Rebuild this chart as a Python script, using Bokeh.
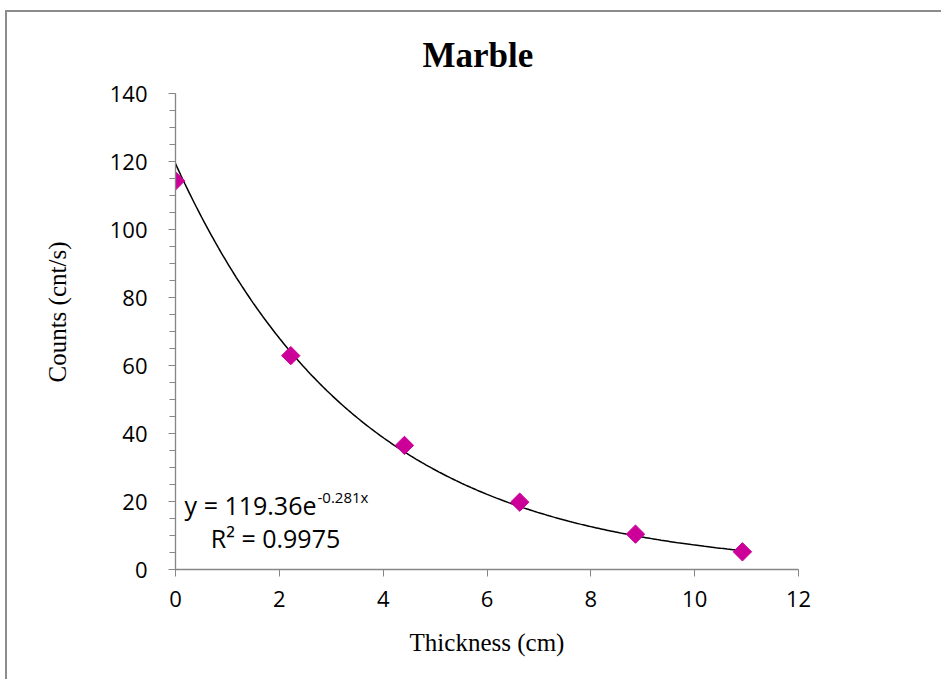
import numpy as np
from bokeh.plotting import figure
from bokeh.layouts import column, row
from bokeh.models import (ColumnDataSource, Label, Title, SingleIntervalTicker, Range1d,
                          Div, Spacer)
from bokeh.embed import file_html
from bokeh.resources import INLINE

# ---- data ----
thickness = [0.0, 2.22, 4.41, 6.63, 8.86, 10.92]
counts = [114.3, 62.9, 36.5, 19.8, 10.4, 5.2]

# exponential trendline coefficients shown on the chart
fit_a = 119.36
fit_b = -0.281
eq_main = "y = 119.36e"
eq_exp = "-0.281x"
eq_r2 = "R\u00b2 = 0.9975"

title_text = "Marble"
x_label = "Thickness (cm)"
y_label = "Counts (cnt/s)"

tick_font = "Open Sans"
serif_font = "Liberation Serif"
axis_gray = "#868686"
marker_color = "#CC0099"
border_gray = "#8c8c8c"

p = figure(width=942, height=667, output_backend="svg", toolbar_location=None,
           x_range=Range1d(0, 12), y_range=Range1d(0, 140),
           min_border_left=168, min_border_right=151,
           min_border_top=81, min_border_bottom=110)
p.background_fill_color = "white"
p.border_fill_color = "white"
p.outline_line_color = None
p.grid.grid_line_color = None

# title
p.title.text = title_text
p.title.text_font = serif_font
p.title.text_font_size = "35px"
p.title.text_font_style = "bold"
p.title.text_color = "black"
p.title.align = "left"
p.title.offset = 247
p.title.standoff = 38

# trendline
tx = np.linspace(min(thickness), max(thickness), 300)
ty = fit_a * np.exp(fit_b * tx)
p.line(tx, ty, line_color="black", line_width=1.5)

src = ColumnDataSource(dict(x=thickness, y=counts))
p.scatter("x", "y", source=src, marker="square", angle=np.pi / 4, size=13,
          fill_color=marker_color, line_color=marker_color)

# axes
p.xaxis.ticker = SingleIntervalTicker(interval=2, num_minor_ticks=0)
p.yaxis.ticker = SingleIntervalTicker(interval=20, num_minor_ticks=4)
for ax in (p.xaxis[0], p.yaxis[0]):
    ax.axis_line_color = axis_gray
    ax.axis_line_width = 1.3
    ax.major_tick_line_color = axis_gray
    ax.minor_tick_line_color = axis_gray
    ax.major_tick_in = 0
    ax.minor_tick_in = 0
    ax.major_tick_out = 7
    ax.major_label_text_font = tick_font
    ax.major_label_text_font_size = "22px"
    ax.major_label_text_color = "black"
p.xaxis.minor_tick_out = 0
p.yaxis.minor_tick_out = 6
p.yaxis.major_label_standoff = 21
p.xaxis.major_label_standoff = 14

p.xaxis.axis_label = x_label
p.xaxis.axis_label_text_font = serif_font
p.xaxis.axis_label_text_font_style = "normal"
p.xaxis.axis_label_text_font_size = "25px"
p.xaxis.axis_label_text_color = "black"
p.xaxis.axis_label_standoff = 19

# y axis label as a side title (positioned like the reference)
p.add_layout(Title(text=y_label, align="left", offset=187, standoff=70,
                   vertical_align="middle",
                   text_font=serif_font, text_font_size="25px",
                   text_font_style="normal", text_color="black"), "left")

# equation
p.add_layout(Label(x=141, y=65, x_units="screen", y_units="screen", text=eq_main,
                   text_align="right", text_baseline="alphabetic",
                   text_font=tick_font, text_font_size="25px", text_color="black"))
p.add_layout(Label(x=142, y=73, x_units="screen", y_units="screen", text=eq_exp,
                   text_align="left", text_baseline="alphabetic",
                   text_font=tick_font, text_font_size="15px", text_color="black"))
p.add_layout(Label(x=100, y=32, x_units="screen", y_units="screen", text=eq_r2,
                   text_align="center", text_baseline="alphabetic",
                   text_font=tick_font, text_font_size="25px", text_color="black"))

# chart-area border (left and top edges) built from layout pieces
top_line = Div(text="", width=944, height=2, margin=0,
               styles={"background-color": border_gray})
left_line = Div(text="", width=2, height=667, margin=0,
                styles={"background-color": border_gray})
layout = column(
    Spacer(height=10),
    row(Spacer(width=5), top_line),
    row(Spacer(width=5), left_line, p),
)

open("out.html", "w").write(file_html(layout, INLINE))
